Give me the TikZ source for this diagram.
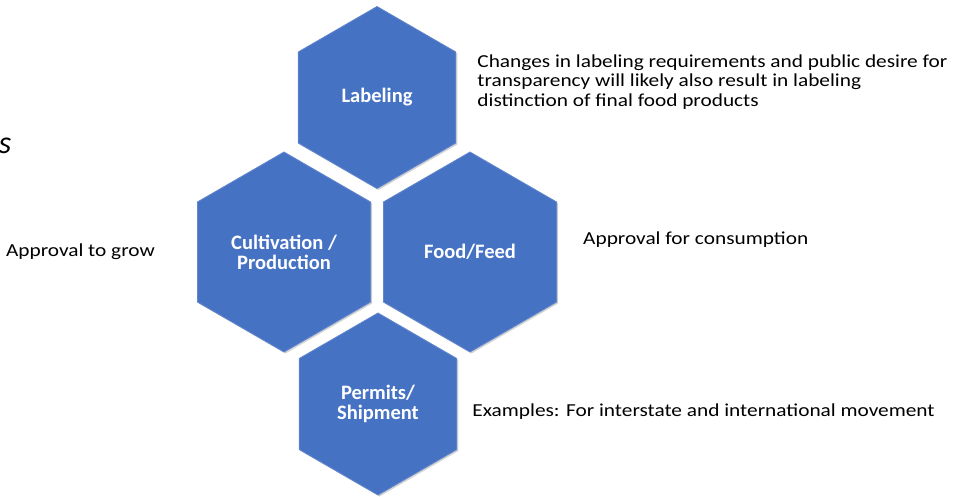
\documentclass[tikz,border=0pt]{standalone}
\usepackage{fontspec}
\setmainfont{Carlito}
\newfontfamily\notefont[FakeStretch=1.165]{Carlito}
\usetikzlibrary{shapes.geometric,positioning,shadows}
\definecolor{hexblue}{RGB}{70,114,196}

\begin{document}
\begin{tikzpicture}[x=1pt,y=1pt,node distance=154.5pt,
hex/.style={regular polygon,regular polygon sides=6,shape border rotate=30,
  inner sep=0pt,fill=hexblue,text=white,align=center,
  draw=hexblue!85!white,line width=0.8pt,
  font=\bfseries\fontsize{20.5}{20}\selectfont,
  drop shadow={shadow xshift=1.5pt,shadow yshift=-1.5pt,opacity=0.35}},
hexbig/.style={hex,minimum size=200pt},
hexsmall/.style={hex,minimum size=182pt}
]

\tikzstyle{note} = [align=left,inner sep=0pt,font=\notefont\fontsize{18.3}{19.5}\selectfont]

  \useasboundingbox (0,0) rectangle (960,-496);

  \node (labeling)    [hexsmall] at (377,-97.5)                      {Labeling};
  \node (cultivation) [hexbig,below of=labeling,xshift=-93pt]       {Cultivation /\\Production};
  \node (food)        [hexbig,below of=labeling,xshift=93pt]        {Food/Feed};
  \node (permits)     [hexsmall,below of=labeling,yshift=-152pt,xshift=1pt] {Permits/\\Shipment};

  \node (grownote)    [note,left=42pt of cultivation]               {Approval to grow};
  \node (consumenote) [note,right=26pt of food,yshift=12pt]          {Approval for consumption};
  \node (labelnote)   [note,right=21pt of labeling,yshift=15.5pt]    {Changes in labeling requirements and public desire for\\transparency will likely also result in labeling\\distinction of final food products};
  \node (movenote)    [note,right=15pt of permits,yshift=-8pt]      {Examples: For interstate and international movement};

  \node (cut) [note,font=\itshape\fontsize{32}{32}\selectfont] at (5,-146) {s};

\end{tikzpicture}
\end{document}
